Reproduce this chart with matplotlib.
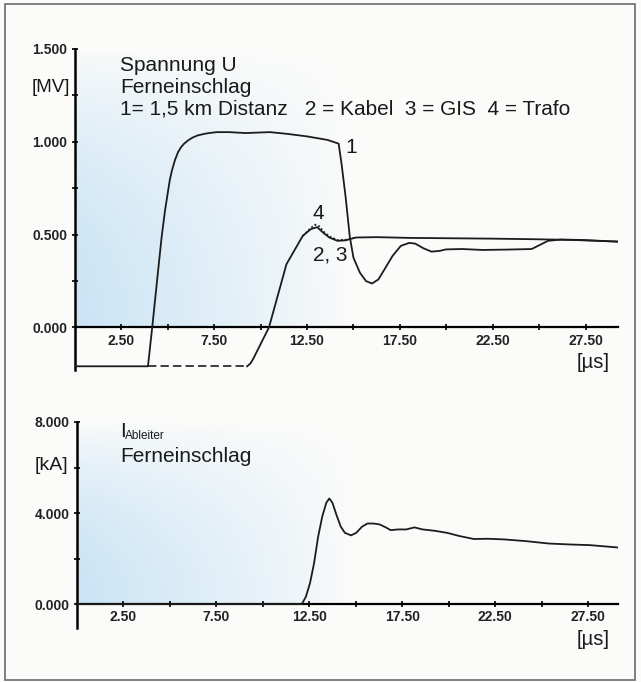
import numpy as np
import matplotlib.pyplot as plt
from matplotlib.patches import Rectangle

plt.rcParams['font.family'] = ['Liberation Sans', 'DejaVu Sans']

# --- Spannung U [MV] ueber t [us] ---
# curve 1: 1,5 km Distanz
t_1 = [0.0, 3.93, 4.16, 4.45, 4.67, 4.85, 4.99, 5.10, 5.22, 5.38, 5.55, 5.72,
       5.88, 6.10, 6.32, 6.60, 6.98, 7.30, 7.64, 8.30, 9.18, 10.50, 11.40,
       12.50, 13.60, 14.20, 14.36, 14.58, 14.80, 15.00, 15.35, 15.68, 16.00,
       16.34, 16.67, 17.10, 17.55, 18.00, 18.33, 18.77, 19.20, 19.65, 19.98,
       20.86, 21.96, 23.28, 24.60, 25.04, 25.48, 26.15, 27.25, 28.35, 29.23]
u_1 = [-0.21, -0.21, 0.00, 0.28, 0.49, 0.63, 0.72, 0.79, 0.845, 0.90, 0.944,
       0.972, 0.990, 1.008, 1.022, 1.034, 1.043, 1.048, 1.052, 1.052, 1.047,
       1.052, 1.043, 1.029, 1.010, 0.990, 0.880, 0.700, 0.490, 0.375, 0.294,
       0.249, 0.236, 0.258, 0.312, 0.384, 0.439, 0.455, 0.451, 0.426, 0.408,
       0.412, 0.420, 0.422, 0.417, 0.419, 0.422, 0.444, 0.466, 0.473, 0.471,
       0.466, 0.462]

# curves 2, 3: Kabel, GIS
t_23_base = [3.93, 9.27]
u_23_base = [-0.21, -0.21]
t_23 = [9.27, 9.45, 9.60, 10.45, 11.39, 12.27, 12.70, 13.04, 13.37, 13.70,
        14.14, 14.58, 15.13, 16.23, 18.00, 20.20, 22.40, 24.60, 26.80, 29.23]
u_23 = [-0.21, -0.195, -0.17, 0.00, 0.34, 0.493, 0.529, 0.540, 0.510, 0.484,
        0.466, 0.469, 0.484, 0.486, 0.482, 0.480, 0.478, 0.475, 0.471, 0.462]

# curve 4: Trafo
t_4 = [12.27, 12.70, 12.95, 13.15, 13.40, 13.70, 14.14, 14.58, 15.13]
u_4 = [0.493, 0.535, 0.553, 0.545, 0.515, 0.490, 0.470, 0.472, 0.484]

# --- Ableiterstrom [kA] ueber t [us] ---
t_i = [0.0, 12.09, 12.31, 12.53, 12.75, 12.97, 13.19, 13.41, 13.57, 13.74,
       13.96, 14.19, 14.41, 14.74, 15.02, 15.33, 15.62, 15.95, 16.28, 16.61,
       16.87, 17.27, 17.71, 18.15, 18.59, 19.25, 19.91, 20.57, 21.34, 22.11,
       23.00, 24.10, 25.40, 26.50, 27.60, 29.05]
i_abl = [0.0, 0.0, 0.32, 0.91, 1.79, 2.96, 3.84, 4.45, 4.64, 4.45,
         3.91, 3.40, 3.13, 3.02, 3.13, 3.40, 3.54, 3.54, 3.50, 3.37,
         3.25, 3.28, 3.28, 3.37, 3.28, 3.22, 3.13, 2.99, 2.86, 2.87,
         2.84, 2.77, 2.66, 2.62, 2.59, 2.49]

x_labels = [2.5, 7.5, 12.5, 17.5, 22.5, 27.5]
x_minor = [5, 10, 15, 20, 25]
u_ticks = [0.0, 0.5, 1.0, 1.5]
u_minor = [0.25, 0.75, 1.25]
i_ticks = [0.0, 4.0, 8.0]
i_minor = [2.0, 6.0]

W, H = 641, 682
fig = plt.figure(figsize=(W / 100, H / 100), dpi=100)
fig.patch.set_facecolor('#fbfbfa')

tick_font = ['Liberation Sans Narrow', 'Liberation Sans', 'DejaVu Sans']


def px_axes(left, top, right, bottom):
    return fig.add_axes([left / W, 1 - bottom / H, (right - left) / W, (bottom - top) / H])


def style_axis(ax, yticks, yminor):
    ax.set_facecolor('none')
    for s in ['top', 'right']:
        ax.spines[s].set_visible(False)
    ax.spines['bottom'].set_position(('data', 0))
    ax.spines['left'].set_linewidth(1.8)
    ax.spines['bottom'].set_linewidth(1.6)
    ax.set_xticks(x_labels)
    ax.set_xticklabels(['%.2f' % v for v in x_labels])
    ax.set_xticks(x_minor, minor=True)
    ax.set_yticks(yticks)
    ax.set_yticklabels(['%.3f' % v for v in yticks])
    ax.set_yticks(yminor, minor=True)
    ax.tick_params(axis='both', which='both', direction='inout', length=5,
                   width=1.3, colors='#111111')
    ax.tick_params(axis='x', pad=2)
    ax.tick_params(axis='y', pad=3)
    for lab in ax.get_xticklabels() + ax.get_yticklabels():
        lab.set_family(tick_font)
        lab.set_fontsize(10)
        lab.set_fontweight('bold')
        lab.set_color('#222222')


def blue_wash(ax, xmax, ymin, ymax):
    # faint blue printing tint in the lower left of each diagram
    nx, ny = 200, 120
    gx = np.linspace(0, 1, nx)
    gy = np.linspace(0, 1, ny)  # 0 at top, 1 at bottom
    alpha = (1 - gx)[None, :] ** 0.9 * np.sin(np.pi / 2 * gy[:, None]) ** 0.8
    img = np.zeros((ny, nx, 4))
    img[..., 0] = 0.76
    img[..., 1] = 0.88
    img[..., 2] = 0.96
    img[..., 3] = alpha * 0.85
    ax.imshow(img, extent=[0, xmax, ymin, ymax], origin='upper', aspect='auto',
              zorder=0, interpolation='bilinear')


line_kw = dict(color='#1c1c1c', lw=1.3, solid_joinstyle='round', zorder=3)
txt = dict(fontsize=15, va='baseline', color='#1a1a1a')

# top chart
ax1 = px_axes(75, 49, 618, 370)
blue_wash(ax1, 15.0, 0.0, 1.5)
ax1.set_xlim(0, 29.25)
ax1.set_ylim(-0.23, 1.5)
style_axis(ax1, u_ticks, u_minor)
ax1.plot(t_1, u_1, **line_kw)
ax1.plot(t_23_base, u_23_base, color='#1c1c1c', lw=1.2, ls=(0, (5, 2.5)), zorder=3)
ax1.plot(t_23, u_23, **line_kw)
ax1.plot(t_4, u_4, color='#1c1c1c', lw=1.3, ls=(0, (1, 1.2)), zorder=3)

ax1.text(2.42, 1.38, 'Spannung U', ha='left', **txt)
ax1.text(2.42, 1.263, 'Ferneinschlag', ha='left', **txt)
ax1.text(2.42, 1.149, '1= 1,5 km Distanz   2 = Kabel  3 = GIS  4 = Trafo',
         ha='left', **txt)
ax1.text(-0.27, 1.27, '[MV]', ha='right', fontsize=13.5, va='baseline', color='#1a1a1a')
ax1.text(14.9, 0.939, '1', ha='center', **txt)
ax1.text(13.1, 0.583, '4', ha='center', **txt)
ax1.text(13.74, 0.362, '2, 3', ha='center', **txt)
ax1.text(27.9, -0.19, '[µs]', fontsize=14.5, va='center', ha='center', color='#1a1a1a')

# bottom chart
ax2 = px_axes(77, 422, 618, 628)
blue_wash(ax2, 15.0, 0.0, 8.0)
ax2.set_xlim(0, 29.1)
ax2.set_ylim(-1.05, 8.0)
style_axis(ax2, i_ticks, i_minor)
ax2.plot(t_i, i_abl, **line_kw)

ax2.text(2.31, 7.34, 'I', ha='left', **txt)
ax2.text(2.58, 7.27, 'Ableiter', fontsize=8.5, va='baseline', ha='left', color='#1a1a1a')
ax2.text(2.31, 6.24, 'Ferneinschlag', ha='left', **txt)
ax2.text(-0.48, 5.89, '[kA]', ha='right', fontsize=14, va='baseline', color='#1a1a1a')
ax2.text(27.75, -1.55, '[µs]', fontsize=14.5, va='center', ha='center', color='#1a1a1a')

# scanned page frame
fig.patches.append(Rectangle((5 / W, 2 / H), 630 / W, 676 / H, transform=fig.transFigure,
                             fill=False, edgecolor='#6a6a6a', lw=1.2))

fig.savefig('out.png', dpi=100, facecolor=fig.get_facecolor())
